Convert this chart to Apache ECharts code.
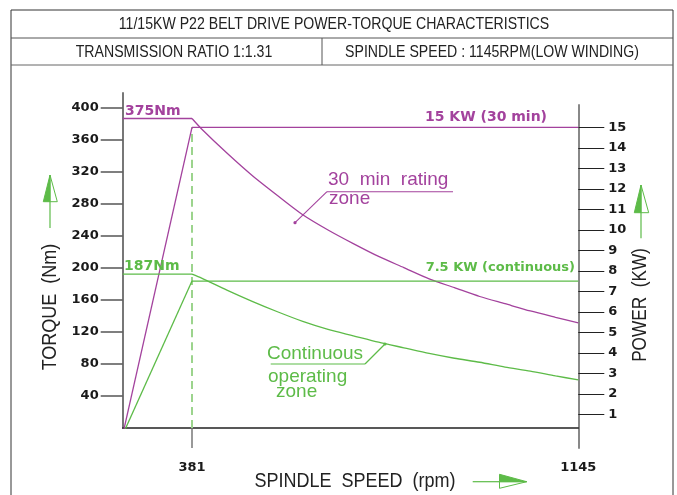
<!DOCTYPE html>
<html><head><meta charset="utf-8">
<script src="https://cdn.jsdelivr.net/npm/echarts@6/dist/echarts.min.js"></script>
<style>html,body{margin:0;padding:0;background:#fff}#c{width:677px;height:495px}</style>
</head><body><div id="c"></div>
<script>
// ---- data ----
const speedRamp = [0, 381];                 // rpm, constant-torque / rising-power range
const speedCurve = [381, 400, 450, 500, 550, 600, 650, 700, 750, 800, 850, 900, 950, 1000, 1050, 1100, 1145];
const torque30Const = [386, 386];           // Nm (drawn level of "375Nm")
const torque30Curve = [386, 373, 343, 315, 290, 266, 247, 230, 214, 200, 186, 175, 164, 155, 146, 138, 131];
const torqueContConst = [192, 192];         // Nm (drawn level of "187Nm")
const torqueContCurve = [192, 187, 172, 158, 145, 133, 123, 115, 107, 100, 93, 87, 82, 76, 71, 65, 60];
const power30Ramp = [0, 15];                // kW
const power30Flat = [15, 15];
const powerContRamp = [0, 7.5];
const powerContFlat = [7.5, 7.5];
const speedFlat = [381, 1145];
const baseSpeedLine = [381, 381];
const baseSpeedTorque = [0, 375];
const torqueTicks = [40, 80, 120, 160, 200, 240, 280, 320, 360, 400];
const powerTicks = [1, 2, 3, 4, 5, 6, 7, 8, 9, 10, 11, 12, 13, 14, 15];
const speedTicks = [381, 1145];

const PURPLE = '#a3429d', GREEN = '#5dbb48', GREEN_L = '#9cd48d';
const CAD = "'Liberation Sans', Arial, sans-serif";
const BOLD = "'DejaVu Sans', Verdana, sans-serif";
const pairs = (xs, ys) => xs.map((x, i) => [x, ys[i]]);

function line(x1, y1, x2, y2, color, w, dash) {
  return { type: 'line', shape: { x1, y1, x2, y2 }, style: { stroke: color, lineWidth: w || 1, lineDash: dash || null }, silent: true, z: 10 };
}
function text(str, x, y, o) {
  o = o || {};
  return {
    type: 'text', x, y, rotation: o.rot || 0, scaleX: o.sx || 1, silent: true, z: 10,
    style: {
      text: str, x: 0, y: 0, fill: o.color || '#222',
      fontSize: o.size || 17, fontFamily: o.family || CAD, fontWeight: o.weight || 'normal',
      align: o.align || 'center', textAlign: o.align || 'center',
      verticalAlign: 'middle', textVerticalAlign: 'middle'
    }
  };
}
function poly(points, fill, stroke) {
  return { type: 'polygon', shape: { points }, style: { fill: fill || 'none', stroke: stroke || null, lineWidth: 1 }, silent: true, z: 10 };
}

const graphics = [
  // header frame
  line(11, 10, 673, 10, '#333', 1),
  line(11, 10, 11, 495, '#333', 1),
  line(673, 10, 673, 495, '#333', 1),
  line(11, 38, 673, 38, '#555', 1),
  line(11, 65, 673, 65, '#666', 1),
  line(322, 38, 322, 65, '#555', 1),
  text('11/15KW P22 BELT DRIVE POWER-TORQUE CHARACTERISTICS', 334, 24, { size: 17, sx: 0.83 }),
  text('TRANSMISSION RATIO 1:1.31', 174, 52, { size: 17, sx: 0.83 }),
  text('SPINDLE SPEED : 1145RPM(LOW WINDING)', 492, 52, { size: 17, sx: 0.83 }),
  // axis titles
  text('TORQUE  (Nm)', 50, 307, { size: 20, sx: 0.9, rot: Math.PI / 2 }),
  text('POWER  (KW)', 640, 305, { size: 20, sx: 0.86, rot: Math.PI / 2 }),
  text('SPINDLE  SPEED  (rpm)', 355, 481, { size: 20, sx: 0.9 }),
  // arrows
  line(50, 201.7, 50, 228, GREEN, 1.2),
  poly([[50, 175], [43.3, 201.7], [50, 201.7]], GREEN, GREEN),
  poly([[50, 175], [57.3, 201.7], [50, 201.7]], null, GREEN),
  line(641, 212.7, 641, 238.3, GREEN, 1.2),
  poly([[641, 185], [634.3, 212.7], [641, 212.7]], GREEN, GREEN),
  poly([[641, 185], [648.7, 212.7], [641, 212.7]], null, GREEN),
  line(472.7, 481.7, 499.5, 481.7, GREEN, 1.2),
  poly([[526.7, 481.7], [499.5, 474.3], [499.5, 481.7]], GREEN, GREEN),
  poly([[526.7, 481.7], [499.5, 488.3], [499.5, 481.7]], null, GREEN),
  // curve labels
  text('375Nm', 125, 111, { size: 14, family: BOLD, weight: 'bold', color: PURPLE, align: 'left' }),
  text('187Nm', 124, 266, { size: 14, family: BOLD, weight: 'bold', color: GREEN, align: 'left' }),
  text('15 KW (30 min)', 547, 117, { size: 14, family: BOLD, weight: 'bold', color: PURPLE, align: 'right' }),
  text('7.5 KW (continuous)', 575, 268, { size: 13, family: BOLD, weight: 'bold', color: GREEN, align: 'right' }),
  // zone annotations
  text('30  min  rating', 328, 180, { size: 19, color: PURPLE, align: 'left' }),
  text('zone', 329, 198.5, { size: 19, color: PURPLE, align: 'left' }),
  line(327, 191.7, 453, 191.7, PURPLE, 1.1),
  line(327, 191.7, 295, 222.7, PURPLE, 1.1),
  { type: 'circle', shape: { cx: 295, cy: 222.7, r: 1.6 }, style: { fill: PURPLE }, silent: true, z: 10 },
  text('Continuous', 267, 354, { size: 19, color: GREEN, align: 'left' }),
  text('operating', 268, 376.5, { size: 19, color: GREEN, align: 'left' }),
  text('zone', 276, 392, { size: 19, color: GREEN, align: 'left' }),
  line(270.7, 364, 365, 364, GREEN, 1.2),
  line(365, 364, 385, 344, GREEN, 1.2),
  { type: 'circle', shape: { cx: 385, cy: 344, r: 1.6 }, style: { fill: GREEN }, silent: true, z: 10 }
];

const lblStyle = { fontFamily: BOLD, fontWeight: 'bold', fontSize: 13, color: '#1a1a1a', formatter: v => String(v) };
const hidden = (gi, min, max) => ({ gridIndex: gi, type: 'value', min, max, show: false });

function ser(xi, yi, data, color, w, dash) {
  return {
    type: 'line', xAxisIndex: xi, yAxisIndex: yi, data, symbol: 'none', showSymbol: false,
    lineStyle: { color, width: w || 1.3, type: dash || 'solid' }, animation: false, silent: true,
    clip: !dash, smooth: 0.25
  };
}

const option = {
  backgroundColor: '#fff',
  animation: false,
  grid: [
    { left: 122.7, top: 93, width: 69.3, height: 335, containLabel: false, outerBoundsMode: 'none' },
    { left: 192, top: 93, width: 386.3, height: 335, containLabel: false, outerBoundsMode: 'none' },
    { left: 192, top: 105, width: 386.3, height: 343, containLabel: false, outerBoundsMode: 'none' }
  ],
  xAxis: [
    { gridIndex: 0, type: 'value', min: 0, max: 381,
      axisLine: { show: true, onZero: false, lineStyle: { color: '#222', width: 1.5 } },
      axisTick: { show: false }, axisLabel: { show: false }, splitLine: { show: false } },
    { gridIndex: 1, type: 'value', min: 381, max: 1145,
      axisLine: { show: true, onZero: false, lineStyle: { color: '#222', width: 1.5 } },
      axisTick: { show: true, customValues: [381], length: 20, lineStyle: { color: '#777', width: 1.5 } },
      axisLabel: Object.assign({ customValues: speedTicks, margin: 33, showMinLabel: true, showMaxLabel: true }, lblStyle),
      splitLine: { show: false } },
    hidden(2, 381, 1145)
  ],
  yAxis: [
    { gridIndex: 0, type: 'value', min: 0, max: 417.8, position: 'left',
      axisLine: { show: true, lineStyle: { color: '#777', width: 2 } },
      axisTick: { show: true, customValues: torqueTicks, length: 22, lineStyle: { color: '#555', width: 1.5 } },
      axisLabel: Object.assign({ customValues: torqueTicks, margin: 24 }, lblStyle),
      splitLine: { show: false } },
    hidden(0, 0.332, 16.673),
    hidden(1, 0, 417.8),
    hidden(1, 0.332, 16.673),
    { gridIndex: 2, type: 'value', min: -0.644, max: 16.088, position: 'right',
      axisLine: { show: true, lineStyle: { color: '#888', width: 2 } },
      axisTick: { show: true, customValues: powerTicks, length: 26, lineStyle: { color: '#222', width: 1 } },
      axisLabel: Object.assign({ customValues: powerTicks, margin: 30 }, lblStyle),
      splitLine: { show: false } }
  ],
  series: [
    ser(1, 2, pairs(baseSpeedLine, baseSpeedTorque), GREEN_L, 2, [8, 5]),
    ser(0, 0, pairs(speedRamp, torque30Const), PURPLE),
    ser(1, 2, pairs(speedCurve, torque30Curve), PURPLE),
    ser(0, 1, pairs(speedRamp, power30Ramp), PURPLE),
    ser(1, 3, pairs(speedFlat, power30Flat), PURPLE),
    ser(0, 0, pairs(speedRamp, torqueContConst), GREEN),
    ser(1, 2, pairs(speedCurve, torqueContCurve), GREEN),
    ser(0, 1, pairs(speedRamp, powerContRamp), GREEN),
    ser(1, 3, pairs(speedFlat, powerContFlat), GREEN)
  ],
  graphic: { elements: graphics }
};

const chart = echarts.init(document.getElementById('c'), null, { renderer: 'canvas' });
chart.setOption(option);
</script>
</body></html>
